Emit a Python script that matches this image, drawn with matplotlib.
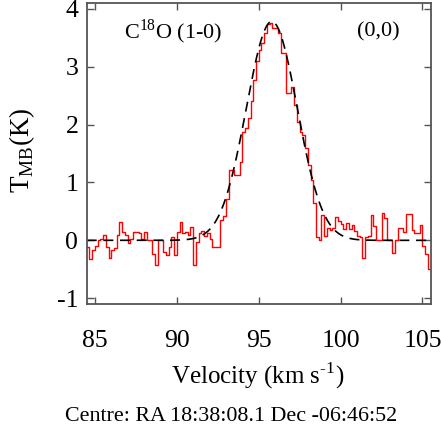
import numpy as np
import matplotlib
matplotlib.use('Agg')
import matplotlib.pyplot as plt

plt.rcParams['font.family'] = ['Liberation Serif', 'DejaVu Serif']
plt.rcParams['mathtext.fontset'] = 'custom'
plt.rcParams['mathtext.rm'] = 'Liberation Serif'
plt.rcParams['axes.unicode_minus'] = False

# spectrum, channels from 84.5 km/s
v_start = 84.5
v_end = 105.5
t_mb = [
    -0.12, -0.32, -0.17, -0.09, 0.01, 0.03, 0.09, -0.12, -0.30, -0.16,
    -0.13, 0.09, 0.32, 0.14, 0.10, -0.05, 0.03, 0.14, 0.14, 0.13,
    0.03, 0.14, 0.00, 0.00, -0.23, -0.42, 0.01, 0.01, -0.20, -0.26,
    -0.12, 0.06, -0.26, 0.14, 0.32, 0.12, 0.14, 0.09, 0.23, -0.43,
    -0.03, 0.12, 0.16, 0.08, 0.12, 0.03, -0.12, -0.12, -0.12, 0.35,
    0.42, 0.72, 1.22, 1.21, 1.13, 1.13, 1.36, 1.88, 1.94, 2.11,
    2.41, 2.77, 3.09, 3.29, 3.41, 3.58, 3.73, 3.75, 3.66, 3.66,
    3.58, 3.23, 3.23, 2.54, 2.54, 2.65, 2.34, 2.05, 1.88, 1.82,
    1.59, 1.30, 1.04, 0.65, 0.06, 0.00, 0.43, 0.08, 0.22, 0.17,
    0.22, 0.40, 0.34, 0.29, 0.20, 0.30, 0.20, 0.26, 0.16, 0.07,
    0.05, -0.30, 0.05, 0.07, 0.43, 0.24, 0.01, 0.01, 0.47, 0.38,
    0.00, 0.00, -0.22, 0.00, 0.22, 0.22, 0.15, 0.46, 0.46, 0.18,
    0.12, 0.12, 0.27, -0.09, -0.24, -0.49,
]

# gaussian fit
fit_amp = 3.78
fit_v0 = 95.8
fit_sigma = 1.55

n = len(t_mb)
dv = (v_end - v_start) / n
vel = v_start + dv * np.arange(n + 1)
tt = np.append(t_mb, t_mb[-1])

fig = plt.figure(figsize=(4.41, 4.32), dpi=100)
ax = fig.add_axes([0.1966, 0.2963, 0.78, 0.6967])

ax.step(vel, tt, where='post', color='red', lw=1.0)
vf = np.linspace(v_start, v_end, 400)
ax.plot(vf, fit_amp * np.exp(-(vf - fit_v0) ** 2 / (2 * fit_sigma ** 2)),
        color='black', lw=1.2, ls=(0, (6, 4)))

ax.set_xlim(84.5, 105.5)
ax.set_ylim(-1.1, 4.1)
ax.set_xticks([85, 90, 95, 100, 105])
ax.set_yticks([-1, 0, 1, 2, 3, 4])

for s in ax.spines.values():
    s.set_color('#555555')
    s.set_linewidth(1.3)
ax.tick_params(direction='in', top=True, right=True, length=5, width=1,
               color='#555555', labelsize=18.5)
ax.tick_params(axis='x', pad=19)
ax.tick_params(axis='y', pad=6)

ax.text(89.8, 3.6, r'C$^{\mathrm{18}}$O (1-0)', fontsize=16, ha='center', va='center')
ax.text(102.3, 3.6, '(0,0)', fontsize=16, ha='center', va='center')

ax.set_ylabel(r'T$_{\mathrm{MB}}$(K)', fontsize=19.5, va='center')
ax.yaxis.set_label_coords(-0.188, 0.512)
ax.set_xlabel('Velocity (km s$^{\\mathrm{\u20101}}$)', fontsize=18, va='center')
ax.xaxis.set_label_coords(0.498, -0.239)
fig.text(0.525, 0.035, 'Centre: RA 18:38:08.1 Dec -06:46:52', fontsize=15.8,
         ha='center', va='center')

fig.savefig('out.png', dpi=100)
